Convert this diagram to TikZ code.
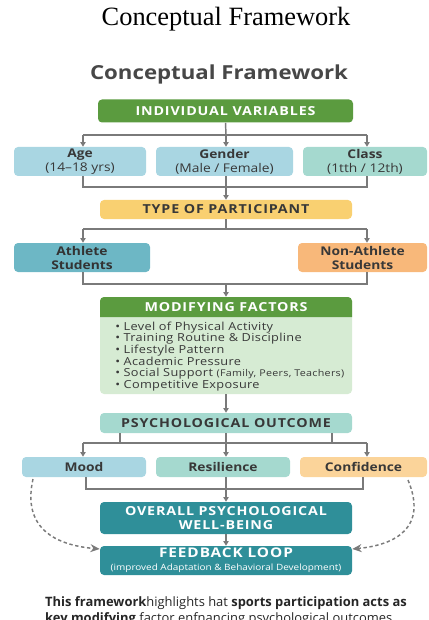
\documentclass[tikz,border=0pt]{standalone}
\usepackage{fontspec}
\setmainfont{Open Sans}[FakeStretch=1.15]
\newfontfamily\plainsans{Open Sans}
\newfontfamily\serifttl{Liberation Serif}
\usetikzlibrary{arrows.meta,calc}
\definecolor{cgreen}{HTML}{5B9B3F}
\definecolor{cltgreen}{HTML}{D6EBD3}
\definecolor{cblue}{HTML}{A9D6E2}
\definecolor{cteal}{HTML}{A5D9CF}
\definecolor{cyellow}{HTML}{F9D071}
\definecolor{cathl}{HTML}{6DB7C5}
\definecolor{corange}{HTML}{F8B87A}
\definecolor{cconf}{HTML}{FBD49A}
\definecolor{cdark}{HTML}{2F8F99}
\definecolor{cline}{HTML}{7A7A7A}
\definecolor{ctext}{HTML}{383838}
\newcommand\capsfont{\bfseries\fontsize{9.3}{11}\selectfont\addfontfeature{LetterSpace=7}}
\tikzset{
  box/.style={rounded corners=3pt, inner sep=0pt, align=center, text=ctext, font=\fontsize{9}{10.5}\selectfont},
  bbox/.style={box, font=\bfseries\fontsize{9}{10.5}\selectfont},
  cbox/.style={box, font=\capsfont},
  wbox/.style={box, text=white, font=\capsfont},
  conn/.style={draw=cline, line width=1.1pt},
  arr/.style={conn, -{Triangle[length=3.5pt,width=4pt]}},
  dasharr/.style={draw=cline, line width=1.1pt, dash pattern=on 2.5pt off 2pt, -{Stealth[length=7pt,width=6pt]}}
}
\begin{document}
\begin{tikzpicture}[x=0.75pt,y=-0.75pt]
\useasboundingbox (0,0) rectangle (428,620);
\clip (0,0) rectangle (428,620);
% titles
\node[font=\serifttl\fontsize{19.8}{22}\selectfont] (title) at (226,19) {Conceptual Framework};
\node[font=\bfseries\fontsize{14.5}{17}\selectfont, text=black!72] (head) at (219,74) {Conceptual Framework};
% boxes
\node[wbox, fill=cgreen, minimum width=255*0.75pt, minimum height=23*0.75pt] (iv) at (225.5,111) {INDIVIDUAL VARIABLES};
\node[box, fill=cblue, minimum width=132*0.75pt, minimum height=29*0.75pt] (age) at (80,161.5) {\textbf{Age}\\(14--18 yrs)};
\node[box, fill=cblue, minimum width=137*0.75pt, minimum height=29*0.75pt] (gender) at (224.5,161.5) {\textbf{Gender}\\(Male / Female)};
\node[box, fill=cteal, minimum width=124*0.75pt, minimum height=29*0.75pt] (class) at (365,161.5) {\textbf{Class}\\(1tth / 12th)};
\node[cbox, fill=cyellow, minimum width=252*0.75pt, minimum height=19*0.75pt] (type) at (226,209.5) {TYPE OF PARTICIPANT};
\node[bbox, fill=cathl, text=black!80, minimum width=136*0.75pt, minimum height=29*0.75pt] (ath) at (82,257.5) {Athlete\\Students};
\node[bbox, fill=corange, minimum width=129*0.75pt, minimum height=29*0.75pt] (non) at (362.5,257.5) {Non-Athlete\\Students};
% modifying factors
\node[box, fill=cltgreen, minimum width=252*0.75pt, minimum height=97*0.75pt] (mod) at (226,345.5) {};
\fill[cgreen] (100,317) [rounded corners=3pt]-- (100,297) -- (352,297) [sharp corners]-- (352,317) -- cycle;
\node[text=white, font=\capsfont] (modh) at (226,307) {MODIFYING FACTORS};
\node[anchor=north west, inner sep=0pt, text=ctext, align=left, font=\fontsize{8.3}{8.7}\selectfont\addfontfeature{LetterSpace=3}] (list) at (115,321.5)
 {\textbullet\ Level of Physical Activity\\
  \textbullet\ Training Routine \& Discipline\\
  \textbullet\ Lifestyle Pattern\\
  \textbullet\ Academic Pressure\\
  \textbullet\ Social Support {\fontsize{7}{8}\selectfont(Family, Peers, Teachers)}\\
  \textbullet\ Competitive Exposure};
\node[cbox, fill=cteal, minimum width=252*0.75pt, minimum height=20*0.75pt] (psy) at (226,423) {PSYCHOLOGICAL OUTCOME};
\node[bbox, fill=cblue, minimum width=124*0.75pt, minimum height=20*0.75pt] (mood) at (84,467) {Mood};
\node[bbox, fill=cteal, minimum width=134*0.75pt, minimum height=20*0.75pt] (res) at (223,467) {Resilience};
\node[bbox, fill=cconf, minimum width=127*0.75pt, minimum height=20*0.75pt] (conf) at (363.5,467) {Confidence};
\node[wbox, fill=cdark, minimum width=252*0.75pt, minimum height=32*0.75pt] (over) at (226,518) {OVERALL PSYCHOLOGICAL\\WELL-BEING};
\node[wbox, fill=cdark, minimum width=252*0.75pt, minimum height=29*0.75pt] (fb) at (226,560.5) {{\fontsize{10}{11}\selectfont FEEDBACK LOOP}\\[-1pt]{\normalfont\fontsize{6.5}{7}\selectfont (improved Adaptation \& Behavioral Development)}};
% junction coordinates
\coordinate (j1) at (226,135);
\coordinate (j2) at (226,187);
\coordinate (j3) at (226,229);
\coordinate (j4) at (226,284);
\coordinate (j5) at (226,443);
\coordinate (j6) at (226,489);
\coordinate (L) at (83,0);
\coordinate (R) at (367,0);
% connectors group 1
\draw[conn] (iv.south) -- (j1);
\draw[conn] (L |- j1) -- (R |- j1);
\draw[arr] (L |- j1) -- (L |- age.north);
\draw[arr] (j1) -- (j1 |- gender.north);
\draw[arr] (R |- j1) -- (R |- class.north);
% group 2
\draw[conn] (L |- age.south) -- (L |- j2) -- (R |- j2) -- (R |- class.south);
\draw[conn] (j1 |- gender.south) -- (j2);
\draw[arr] (j2) -- (type.north);
% group 3
\draw[conn] (type.south) -- (j3);
\draw[conn] (L |- j3) -- (R |- j3);
\draw[arr] (L |- j3) -- (L |- ath.north);
\draw[arr] (R |- j3) -- (R |- non.north);
% group 4
\draw[conn] (L |- ath.south) -- (L |- j4) -- (R |- j4) -- (R |- non.south);
\draw[arr] (j4) -- (mod.north);
\draw[arr] (mod.south) -- (psy.north);
% group 5
\coordinate (p1) at (120,0);
\coordinate (p3) at (332,0);
\draw[conn] (p1 |- psy.south) -- (p1 |- j5);
\draw[conn] (psy.south) -- (j5);
\draw[conn] (p3 |- psy.south) -- (p3 |- j5);
\draw[conn] (L |- j5) -- (R |- j5);
\draw[arr] (L |- j5) -- (L |- mood.north);
\draw[arr] (j5) -- (j5 |- res.north);
\draw[arr] (R |- j5) -- (R |- conf.north);
% group 6
\coordinate (m1) at (86,0);
\coordinate (m3) at (363,0);
\draw[conn] (m1 |- mood.south) -- (m1 |- j6) -- (m3 |- j6) -- (m3 |- conf.south);
\draw[conn] (j6 |- res.south) -- (j6);
\draw[arr] (j6) -- (over.north);
\draw[arr] (over.south) -- (fb.north);
% feedback dashed curves
\coordinate (dl) at (33,479);
\coordinate (dr) at (408,480);
\draw[dasharr] (dl) .. controls (22,528) and (55,545) .. (fb.west |- 0,549);
\draw[dasharr] (dr) .. controls (428,528) and (395,545) .. (fb.east |- 0,549);
% bottom text
\node[text=black!85, font=\plainsans\fontsize{9.7}{11.5}\selectfont, align=left] (note) at (226,611)
 {\textbf{This framework}highlights hat \textbf{sports participation acts as}\\
  \textbf{key modifying} factor enfnancing psychological outcomes.};
\end{tikzpicture}
\end{document}
